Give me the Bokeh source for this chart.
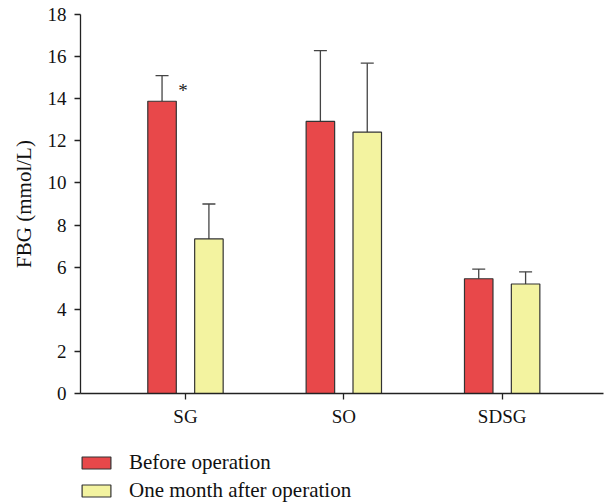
from bokeh.plotting import figure
from bokeh.layouts import column
from bokeh.models import (ColumnDataSource, FixedTicker, Legend, LegendItem,
                          Whisker, TeeHead, Range1d)
from bokeh.core.properties import value
from bokeh.embed import file_html
from bokeh.resources import INLINE

groups = ["SG", "SO", "SDSG"]
before_mean = [13.88, 12.92, 5.45]
before_sd = [1.22, 3.36, 0.46]
after_mean = [7.34, 12.41, 5.20]
after_sd = [1.66, 3.28, 0.58]
marks = ["*", "", ""]
series_names = ["Before operation", "One month after operation"]
y_ticks = [0, 2, 4, 6, 8, 10, 12, 14, 16, 18]

RED = "#E8484A"
YEL = "#F3F3A0"
EDGE = "#333333"
FONT = "Liberation Serif"

pos = [i + 1 for i in range(len(groups))]
off = 0.148
bw = 0.18
xb = [p_ - off for p_ in pos]
xa = [p_ + off for p_ in pos]

src_b = ColumnDataSource(dict(x=xb, top=before_mean,
                              up=[m + s for m, s in zip(before_mean, before_sd)],
                              mark=marks))
src_a = ColumnDataSource(dict(x=xa, top=after_mean,
                              up=[m + s for m, s in zip(after_mean, after_sd)]))

p = figure(width=605, height=440, output_backend="svg", toolbar_location=None,
           x_range=Range1d(0.337, 3.64), y_range=Range1d(0, 18),
           min_border_left=80, min_border_right=2, min_border_top=14,
           min_border_bottom=47)
p.outline_line_color = None
p.xgrid.visible = False
p.ygrid.visible = False

p.vbar(x="x", top="top", width=bw, source=src_b, fill_color=RED,
       line_color=EDGE, line_width=1.2)
p.vbar(x="x", top="top", width=bw, source=src_a, fill_color=YEL,
       line_color=EDGE, line_width=1.2)

for src in (src_b, src_a):
    w = Whisker(base="x", lower="top", upper="up", source=src,
                dimension="height", line_color="#444444", line_width=1.3,
                lower_head=None,
                upper_head=TeeHead(size=13, line_color="#444444", line_width=1.3))
    p.add_layout(w)

p.text(x="x", y="up", text="mark", source=src_b, x_offset=21, y_offset=15,
       text_font=value(FONT), text_font_size="19px", text_align="center",
       text_baseline="middle", text_color="#222222")

p.yaxis.ticker = FixedTicker(ticks=y_ticks)
p.yaxis.axis_label = "FBG (mmol/L)"
p.xaxis.ticker = FixedTicker(ticks=pos)
p.xaxis.major_label_overrides = {p_: g for p_, g in zip(pos, groups)}
for ax in (p.xaxis, p.yaxis):
    ax.minor_tick_line_color = None
    ax.major_tick_in = 0
    ax.major_tick_out = 6
    ax.axis_line_color = "#222222"
    ax.axis_line_width = 1.3
    ax.major_tick_line_color = "#222222"
    ax.major_tick_line_width = 1.3
    ax.major_label_text_font = FONT
    ax.major_label_text_font_size = "19px"
    ax.major_label_text_color = "#111111"
    ax.axis_label_text_font = FONT
    ax.axis_label_text_font_size = "21px"
    ax.axis_label_text_font_style = "normal"
    ax.axis_label_text_color = "#111111"
p.yaxis.major_label_standoff = 8
p.yaxis.axis_label_standoff = 9
p.xaxis.major_label_standoff = 6

# legend panel below the chart (swatch renderers are hidden; legend still draws them)
p2 = figure(width=605, height=63, output_backend="svg", toolbar_location=None,
            x_range=Range1d(0.337, 3.64), y_range=Range1d(0, 18),
            x_axis_type=None, y_axis_type=None,
            min_border_left=0, min_border_right=0, min_border_top=0,
            min_border_bottom=0)
p2.outline_line_color = None
lb = p2.vbar(x="x", top="top", width=bw, source=src_b, fill_color=RED,
             line_color=EDGE, line_width=1.2, visible=False)
la = p2.vbar(x="x", top="top", width=bw, source=src_a, fill_color=YEL,
             line_color=EDGE, line_width=1.2, visible=False)
legend = Legend(items=[LegendItem(label=series_names[0], renderers=[lb]),
                       LegendItem(label=series_names[1], renderers=[la])],
                location=(-2, 0), orientation="vertical",
                glyph_width=36, glyph_height=15, label_height=15,
                spacing=3, label_standoff=15, padding=0, margin=0,
                border_line_color=None, background_fill_alpha=0,
                label_text_font=FONT, label_text_font_size="21px",
                label_text_color="#111111")
p2.add_layout(legend, "center")

layout = column(p, p2, spacing=0)
open("out.html", "w").write(file_html(layout, INLINE))
